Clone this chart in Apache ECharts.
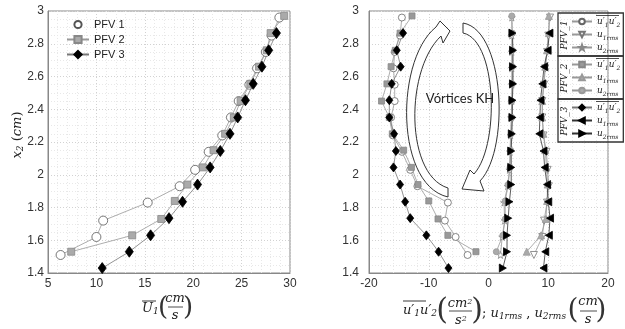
<!DOCTYPE html>
<html>
<head>
<meta charset="utf-8">
<script src="https://cdn.jsdelivr.net/npm/echarts@6/dist/echarts.min.js"></script>
<style>
  html, body { margin: 0; padding: 0; background: #fff; }
  #chart { width: 625px; height: 329px; }
</style>
</head>
<body>
<div id="chart"></div>
<script>
// heights x2 (cm) of each campaign
const pfv1Height = [1.51, 1.62, 1.72, 1.83, 1.93, 2.03, 2.14, 2.24, 2.35, 2.45, 2.55, 2.65, 2.75, 2.85, 2.96];
const pfv2Height = [1.53, 1.63, 1.73, 1.84, 1.94, 2.045, 2.15, 2.25, 2.35, 2.45, 2.555, 2.66, 2.76, 2.865, 2.97];
const pfv3Height = [1.43, 1.53, 1.63, 1.735, 1.835, 1.94, 2.045, 2.145, 2.25, 2.35, 2.455, 2.555, 2.66, 2.76, 2.865];

// mean velocity U1 (cm/s)
const pfv1U = [6.3, 10.0, 10.7, 15.3, 18.6, 20.2, 21.6, 23.0, 23.9, 24.7, 25.8, 26.6, 27.5, 28.1, 28.9];
const pfv2U = [7.4, 13.7, 16.7, 18.1, 19.4, 21.0, 22.1, 23.3, 24.2, 24.9, 25.9, 26.8, 27.6, 28.0, 29.4];
const pfv3U = [10.6, 13.4, 15.6, 17.5, 18.9, 20.45, 21.75, 22.8, 23.8, 24.6, 25.4, 26.2, 27.1, 27.8, 28.6];

// Reynolds stress u1'u2' (cm2/s2)
const pfv1UV = [-3.5, -5.5, -7.3, -6.8, -11.9, -13.1, -14.5, -16.0, -16.3, -15.7, -15.7, -15.9, -15.7, -14.8, -14.5];
const pfv2UV = [-2.1, -6.8, -8.45, -10.0, -11.8, -12.9, -14.2, -16.1, -16.6, -17.9, -17.0, -16.3, -15.6, -14.8, -12.8];
const pfv3UV = [-6.7, -8.35, -10.4, -13.1, -13.95, -14.8, -15.9, -15.5, -15.8, -16.6, -16.6, -16.2, -14.7, -15.35, -14.3];

// rms velocities (cm/s)
const pfv1U1rms = [7.6, 9.0, 9.3, 9.8, 10.1, 9.9, 9.7, 9.2, 9.0, 9.0, 9.3, 9.5, 9.8, 10.0, 10.3];
const pfv2U1rms = [6.4, 8.8, 9.6, 9.8, 9.9, 9.7, 9.5, 9.2, 9.0, 9.0, 9.2, 9.5, 9.8, 10.1, 10.1];
const pfv3U1rms = [9.2, 9.5, 10.1, 10.3, 10.0, 9.8, 9.4, 9.2, 8.5, 8.6, 8.7, 9.0, 9.3, 9.9, 10.2];
const pfv1U2rms = [2.0, 2.3, 2.7, 2.6, 3.2, 3.5, 3.6, 3.7, 3.8, 3.9, 3.9, 3.9, 3.9, 3.9, 3.9];
const pfv2U2rms = [1.3, 2.4, 2.8, 2.8, 3.3, 3.6, 3.7, 3.8, 3.9, 3.9, 4.0, 4.0, 4.0, 4.0, 3.9];
const pfv3U2rms = [2.4, 3.1, 3.1, 3.3, 3.5, 3.8, 3.8, 3.8, 3.9, 4.0, 4.0, 4.1, 4.1, 4.1, 4.0];

const leftNames = ["PFV 1", "PFV 2", "PFV 3"];
const groupNames = ["PFV_1", "PFV_2", "PFV_3"];

const STAR = "path://M0,-10L2.35,-3.24L9.51,-3.09L3.8,1.24L5.88,8.09L0,4L-5.88,8.09L-3.8,1.24L-9.51,-3.09L-2.35,-3.24Z";
const SERIF = "'DejaVu Serif', 'Liberation Serif', serif";

function makeLine(name, xs, ys, axis, symbol, size, fill, stroke, lineColor, rotate) {
  return {
    name: name,
    type: "line",
    xAxisIndex: axis,
    yAxisIndex: axis,
    data: xs.map((x, i) => [x, ys[i]]),
    symbol: symbol,
    symbolSize: size,
    symbolRotate: rotate || 0,
    showSymbol: true,
    itemStyle: { color: fill, borderColor: stroke, borderWidth: 0.8, opacity: 1 },
    lineStyle: { color: lineColor, width: 0.8 },
    emphasis: { disabled: true },
    animation: false,
  };
}

const series = [
  makeLine("PFV 1", pfv1U, pfv1Height, 0, "circle", 9, "#fff", "#555", "#999"),
  makeLine("PFV 2", pfv2U, pfv2Height, 0, "rect", 7, "#aaa", "#888", "#999"),
  makeLine("PFV 3", pfv3U, pfv3Height, 0, "diamond", [8, 11], "#000", "#000", "#777"),

  makeLine("PFV_1 uv", pfv1UV, pfv1Height, 1, "circle", 7, "#fff", "#666", "#999"),
  makeLine("PFV_1 u1", pfv1U1rms, pfv1Height, 1, "triangle", 7, "#fff", "#777", "#999", 180),
  makeLine("PFV_1 u2", pfv1U2rms, pfv1Height, 1, STAR, 7, "#fff", "#888", "#999"),
  makeLine("PFV_2 uv", pfv2UV, pfv2Height, 1, "rect", 6, "#999", "#888", "#999"),
  makeLine("PFV_2 u1", pfv2U1rms, pfv2Height, 1, "triangle", 7, "#aaa", "#999", "#999"),
  makeLine("PFV_2 u2", pfv2U2rms, pfv2Height, 1, "circle", 6, "#aaa", "#999", "#999"),
  makeLine("PFV_3 uv", pfv3UV, pfv3Height, 1, "diamond", [7, 9], "#000", "#000", "#777"),
  makeLine("PFV_3 u1", pfv3U1rms, pfv3Height, 1, "triangle", [8, 7], "#000", "#000", "#333", 90),
  makeLine("PFV_3 u2", pfv3U2rms, pfv3Height, 1, "triangle", [8, 7], "#000", "#000", "#333", -90),
];

function valueAxis(idx, min, max, interval, minorSplit, side) {
  return {
    type: "value",
    gridIndex: idx,
    min: min,
    max: max,
    interval: interval,
    axisLine: { show: true, onZero: false, lineStyle: { color: "#888" } },
    axisTick: { show: false },
    axisLabel: {
      color: "#333",
      fontSize: 12,
      fontFamily: "'Liberation Sans', Arial, sans-serif",
      margin: side === "x" ? 5 : (idx === 0 ? 4 : 10),
    },
    splitLine: { show: true, lineStyle: { color: "#d2d2d2", type: [1, 2], width: 1 } },
    minorTick: { show: false, splitNumber: minorSplit },
    minorSplitLine: { show: true, lineStyle: { color: "#e8e8e8", type: [1, 2], width: 1 } },
  };
}

const richLegend = {
  i: { fontFamily: SERIF, fontStyle: "italic", fontSize: 9, color: "#222" },
  s: { fontFamily: SERIF, fontStyle: "italic", fontSize: 6, color: "#222", verticalAlign: "bottom", padding: [4, 0, 0, 0] },
};

function legendText(name) {
  const kind = name.split(" ")[1];
  if (kind === "uv") return "{i|u′}{s|1}{i|u′}{s|2}";
  if (kind === "u1") return "{i|u}{s|1rms}";
  return "{i|u}{s|2rms}";
}

const rightLegends = groupNames.map((g, k) => ({
  orient: "vertical",
  left: 558,
  top: 13 + k * 43,
  padding: [2, 3, 2, 13],
  itemGap: 0,
  itemWidth: 20,
  itemHeight: 7,
  borderColor: "#333",
  borderWidth: 1.3,
  selectedMode: false,
  data: [g + " uv", g + " u1", g + " u2"],
  formatter: legendText,
  textStyle: { rich: richLegend, lineHeight: 13, color: "#222" },
}));

const titleRich = {
  i: { fontFamily: SERIF, fontStyle: "italic", fontSize: 13, color: "#222" },
  n: { fontFamily: SERIF, fontSize: 13, color: "#222" },
  s: { fontFamily: SERIF, fontStyle: "italic", fontSize: 9, color: "#222", verticalAlign: "bottom", padding: [6, 0, 0, 0] },
  p: { fontFamily: SERIF, fontStyle: "italic", fontSize: 8, color: "#222", verticalAlign: "top", padding: [0, 0, 5, 0] },
};

function txt(x, y, text, extra) {
  const el = {
    type: "text", x: x, y: y,
    style: Object.assign({ text: text, rich: titleRich, fill: "#222", align: "left", verticalAlign: "middle",
      font: "italic 13px " + SERIF }, (extra && extra.style) || {}),
  };
  if (extra && extra.rotation !== undefined) el.rotation = extra.rotation;
  return el;
}
function seg(x1, y1, x2, y2, w) {
  return { type: "line", shape: { x1: x1, y1: y1, x2: x2, y2: y2 }, style: { stroke: "#222", lineWidth: w || 1 } };
}
function paren(x, y, ch, size) {
  return { type: "text", x: x, y: y, style: { text: ch, font: (size || 28) + "px " + SERIF, fill: "#333", align: "center", verticalAlign: "middle" } };
}

// sample a cubic bezier into points for the arrow outlines
function bez(p0, p1, p2, p3, n) {
  const pts = [];
  for (let k = 0; k <= n; k++) {
    const t = k / n, u = 1 - t;
    pts.push([
      u * u * u * p0[0] + 3 * u * u * t * p1[0] + 3 * u * t * t * p2[0] + t * t * t * p3[0],
      u * u * u * p0[1] + 3 * u * u * t * p1[1] + 3 * u * t * t * p2[1] + t * t * t * p3[1],
    ]);
  }
  return pts;
}
const leftArrow = bez([448, 197], [395, 185], [395, 60], [436, 27], 30)
  .concat([[440, 21], [450, 31], [443, 43]])
  .concat(bez([441, 36], [405, 70], [405, 175], [448, 188], 30));
const rightArrow = bez([463, 23], [505, 30], [510, 150], [480, 181], 30)
  .concat([[484, 191], [462, 189], [470, 170]])
  .concat(bez([474, 174], [500, 145], [497, 40], [463, 33], 30));

const graphics = [
  // left y title
  txt(18, 135, "{i|x}{s|2}{n| (}{i|cm}{n|)}", { rotation: Math.PI / 2, style: { align: "center" } }),
  // left x title
  seg(142, 301, 156, 301, 0.9),
  txt(142, 309, "{i|U}{s|1}"),
  paren(163, 308, "(", 26),
  txt(175, 299, "{i|cm}", { style: { align: "center" } }),
  seg(168, 307, 183, 307, 0.8),
  txt(175, 316, "{i|s}", { style: { align: "center" } }),
  paren(188, 308, ")", 26),
  // right x title
  seg(403, 301, 426, 301, 0.9),
  txt(403, 311, "{i|u′}{s|1}{i|u′}{s|2}"),
  paren(442, 311, "(", 30),
  txt(460, 304, "{i|cm}{p|2}", { style: { align: "center" } }),
  seg(449, 311, 472, 311, 0.8),
  txt(461, 321, "{i|s}{p|2}", { style: { align: "center" } }),
  paren(477, 311, ")", 30),
  txt(482, 314, "{n|; }{i|u}{s|1rms}{n| , }{i|u}{s|2rms}"),
  paren(573, 311, "(", 28),
  txt(588, 302, "{i|cm}", { style: { align: "center" } }),
  seg(580, 311, 597, 311, 0.8),
  txt(588, 320, "{i|s}", { style: { align: "center" } }),
  paren(601, 311, ")", 28),
  // KH vortex arrows
  { type: "polygon", z: 10, shape: { points: leftArrow }, style: { fill: "#fff", stroke: "#333", lineWidth: 1 } },
  { type: "polygon", z: 10, shape: { points: rightArrow }, style: { fill: "#fff", stroke: "#333", lineWidth: 1 } },
  {
    type: "text", z: 10, x: 460, y: 99,
    style: { text: "Vórtices KH", font: "13px Lato, 'Open Sans', sans-serif", fill: "#222", align: "center", verticalAlign: "middle" },
  },
];

// group labels and overlines of the right legend
groupNames.forEach((g, k) => {
  graphics.push({
    type: "text", z: 20, x: 565, y: 35 + k * 43, rotation: Math.PI / 2,
    style: { text: g, font: "italic 9px " + SERIF, fill: "#222", align: "center", verticalAlign: "middle" },
  });
  graphics.push({
    type: "line", z: 20,
    shape: { x1: 596, y1: 15.5 + k * 43, x2: 619, y2: 15.5 + k * 43 },
    style: { stroke: "#222", lineWidth: 0.8 },
  });
});

const option = {
  animation: false,
  backgroundColor: "#fff",
  grid: [
    { left: 48, top: 11, width: 242, height: 262, show: true, borderColor: "#888", borderWidth: 1 },
    { left: 369, top: 11, width: 239, height: 262, show: true, borderColor: "#888", borderWidth: 1 },
  ],
  xAxis: [valueAxis(0, 5, 30, 5, 5, "x"), valueAxis(1, -20, 20, 10, 5, "x")],
  yAxis: [valueAxis(0, 1.4, 3, 0.2, 4, "y"), valueAxis(1, 1.4, 3, 0.2, 4, "y")],
  legend: [
    {
      orient: "vertical",
      left: 61,
      top: 14,
      itemGap: 4,
      itemWidth: 22,
      itemHeight: 9,
      selectedMode: false,
      data: [
        { name: leftNames[0], lineStyle: { opacity: 0 } },
        { name: leftNames[1] },
        { name: leftNames[2] },
      ],
      textStyle: { fontSize: 11, color: "#222", fontFamily: "'Liberation Sans', Arial, sans-serif" },
    },
  ].concat(rightLegends),
  series: series,
  graphic: { elements: graphics },
};

const chart = echarts.init(document.getElementById("chart"), null, { renderer: "canvas" });
chart.setOption(option);
</script>
</body>
</html>
